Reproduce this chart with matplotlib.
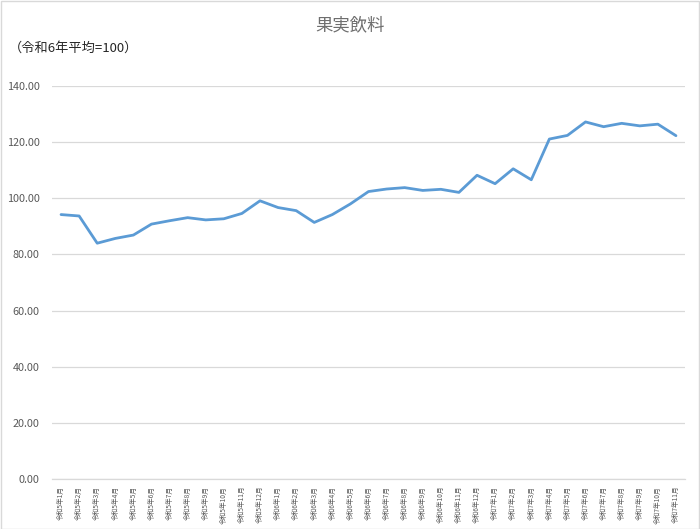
import matplotlib
matplotlib.use("Agg")
import matplotlib.pyplot as plt
from matplotlib.patches import Rectangle

plt.rcParams['font.family'] = ['Noto Sans CJK JP', 'DejaVu Sans']

months = (["令和5年%d月" % m for m in range(1, 13)]
          + ["令和6年%d月" % m for m in range(1, 13)]
          + ["令和7年%d月" % m for m in range(1, 12)])
values = [94.2, 93.7, 84.0, 85.7, 86.9, 90.8, 92.0, 93.1, 92.3, 92.7, 94.6, 99.1,
          96.7, 95.6, 91.4, 94.2, 98.0, 102.4, 103.3, 103.8, 102.8, 103.2, 102.1, 108.2,
          105.2, 110.5, 106.6, 121.1, 122.4, 127.2, 125.5, 126.7, 125.8, 126.4, 122.3]
yticks = [0, 20, 40, 60, 80, 100, 120, 140]

text_gray = "#595959"

fig = plt.figure(figsize=(7.0, 5.29), dpi=100)
ax = fig.add_axes([52/700, 50/529, 633/700, 393/529])

x = range(len(values))
ax.plot(x, values, color="#5B9BD5", linewidth=2.0, solid_capstyle="round", zorder=3)

ax.set_xlim(-0.5, len(values) - 0.5)
ax.set_ylim(0, 140)
ax.set_yticks(yticks)
ax.set_yticklabels(["%.2f" % v for v in yticks], fontsize=7.8, color=text_gray)
ax.set_xticks(list(x))
ax.set_xticklabels(months, rotation=90, fontsize=4.8, color=text_gray,
                   va="top", ha="center")
ax.tick_params(axis="both", length=0, pad=5)
ax.tick_params(axis="y", pad=9)
ax.grid(axis="y", color="#D9D9D9", linewidth=0.9)
ax.set_axisbelow(True)
for side in ["top", "right", "left"]:
    ax.spines[side].set_visible(False)
ax.spines["bottom"].set_color("#D9D9D9")
ax.spines["bottom"].set_linewidth(0.9)

fig.text(0.5, 1 - 25/529, "果実飲料", ha="center", va="center",
         fontsize=12.5, color="#6E6E6E")
fig.text(9/700, 1 - 48/529, "（令和6年平均=100）", ha="left", va="center",
         fontsize=9.5, color="#262626")

fig.patches.append(Rectangle((0.5/700, 0.5/529), 1 - 1.5/700, 1 - 1.5/529,
                             transform=fig.transFigure, fill=False,
                             edgecolor="#D9D9D9", linewidth=1.0))

plt.savefig("out.png", dpi=100)
